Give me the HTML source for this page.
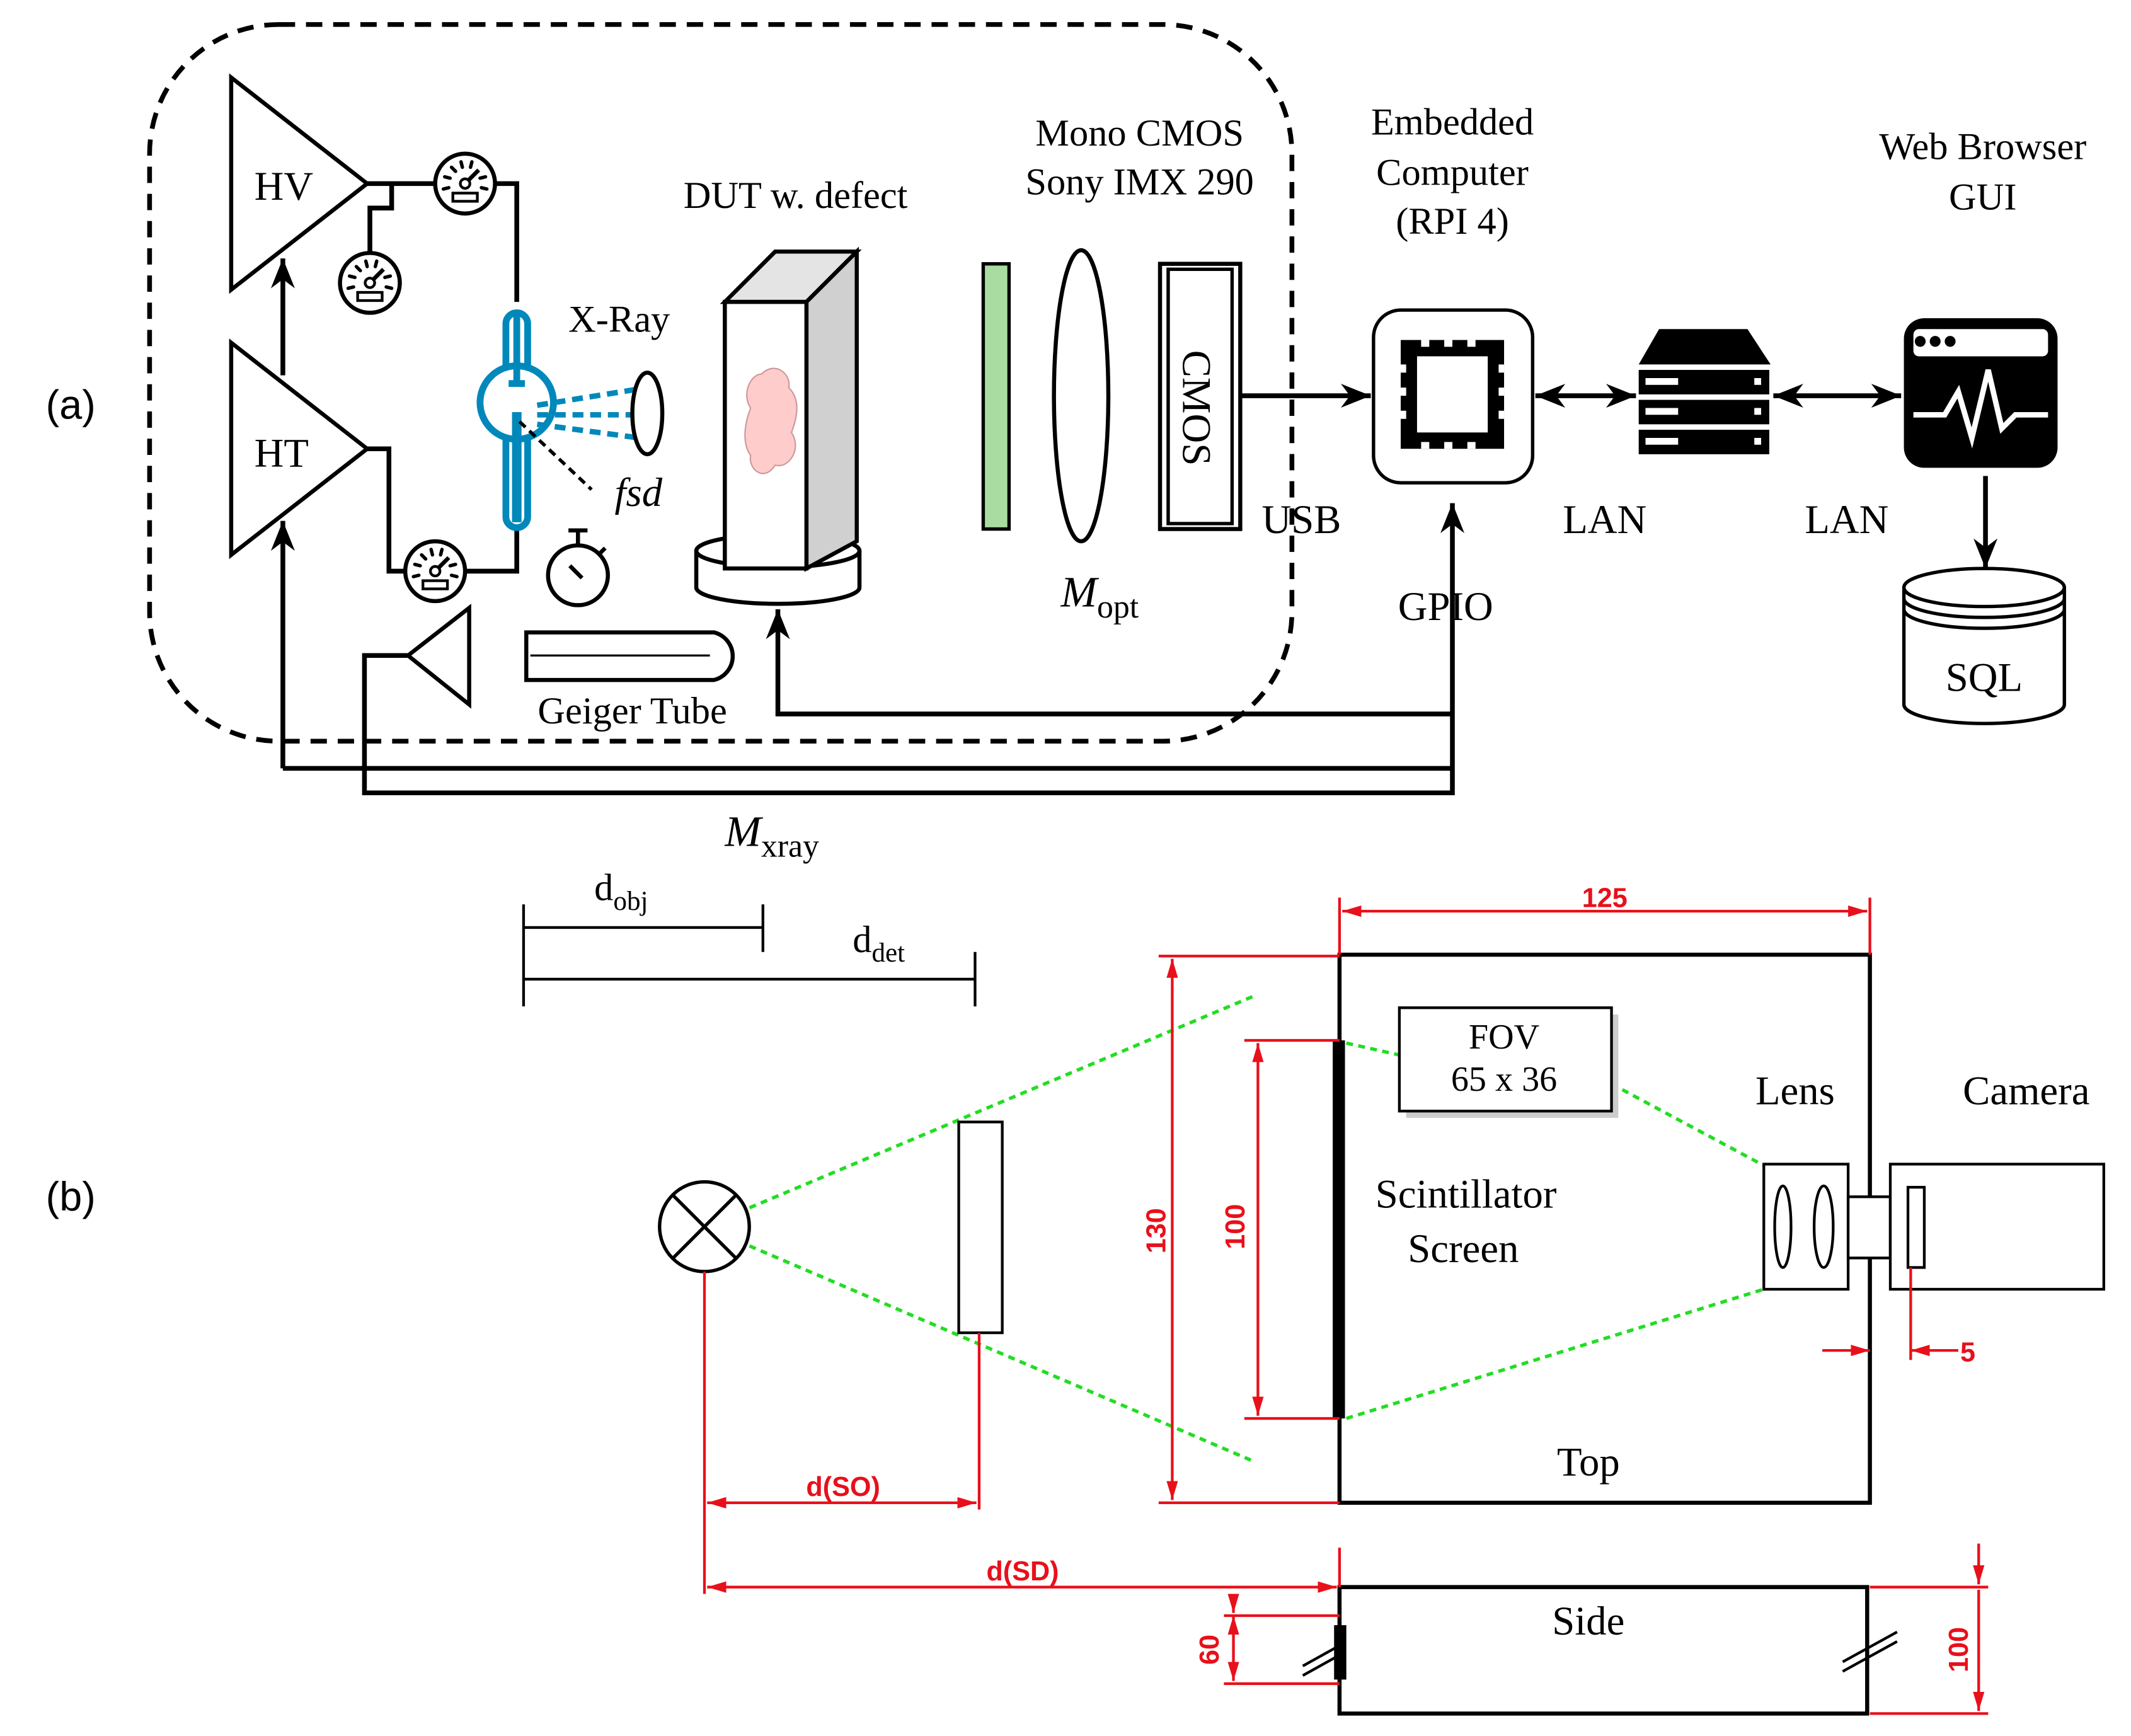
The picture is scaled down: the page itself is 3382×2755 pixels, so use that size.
<!DOCTYPE html>
<html><head><meta charset="utf-8"><style>html,body{margin:0;padding:0;background:#fff}svg{display:block}</style></head>
<body>
<svg xmlns="http://www.w3.org/2000/svg" width="3382" height="2755" viewBox="0 0 1567 1276.5" preserveAspectRatio="none">
<defs>
<marker id="ak" viewBox="0 0 10 10" refX="10" refY="5" markerWidth="22" markerHeight="22" orient="auto-start-reverse" markerUnits="userSpaceOnUse"><path d="M0,1 L10,5 L0,9 L3,5 Z" fill="#000"/></marker>
<marker id="ar" viewBox="0 0 10 10" refX="10" refY="5" markerWidth="14" markerHeight="14" orient="auto-start-reverse" markerUnits="userSpaceOnUse"><path d="M0,2 L10,5 L0,8 Z" fill="#e8101a"/></marker>
<g id="gauge"><circle r="22" fill="#fff" stroke="#000" stroke-width="3"/><g stroke="#000" stroke-width="2.5" stroke-linecap="round"><line x1="-16" y1="4" x2="-12" y2="3"/><line x1="-15" y1="-5" x2="-11" y2="-4"/><line x1="-10" y1="-12" x2="-7" y2="-9"/><line x1="-3" y1="-16" x2="-2" y2="-12"/><line x1="5" y1="-16" x2="4" y2="-12"/><line x1="15" y1="-5" x2="11" y2="-4"/><line x1="16" y1="4" x2="12" y2="3"/></g><line x1="0" y1="0" x2="10" y2="-10" stroke="#000" stroke-width="3"/><circle r="3.5" fill="#fff" stroke="#000" stroke-width="2"/><rect x="-9" y="7" width="18" height="6" fill="#fff" stroke="#000" stroke-width="2"/></g>
</defs>
<g font-family="Liberation Serif, serif" font-size="30" fill="#000">
<rect x="110" y="18" width="840" height="527" rx="95" fill="none" stroke="#000" stroke-width="3.5" stroke-dasharray="12,8"/>
<text x="52" y="308" font-family="Liberation Sans, sans-serif" text-anchor="middle">(a)</text>
<text x="52" y="890" font-family="Liberation Sans, sans-serif" text-anchor="middle">(b)</text>
<path d="M170,57 L170,213 L270,135 Z" fill="#fff" stroke="#000" stroke-width="3"/>
<path d="M170,252 L170,408 L270,330 Z" fill="#fff" stroke="#000" stroke-width="3"/>
<text x="187" y="147">HV</text><text x="187" y="343">HT</text>
<g fill="none" stroke="#000" stroke-width="3.5">
<path d="M270,135 H320 M364,135 H380 V222"/>
<path d="M288,135 V153 H272 V186"/>
<path d="M270,330 H286 V420 H298 M342,420 H380 V390"/>
<path d="M208,276 V190" marker-end="url(#ak)"/>
<path d="M300,482 H268 V583 H1068 V370" marker-end="url(#ak)"/>
<path d="M208,565 H1068"/>
<path d="M208,565 V383" marker-end="url(#ak)"/>
<path d="M1068,525 H572 V448" marker-end="url(#ak)"/>
<path d="M912,291 H1008" marker-end="url(#ak)"/>
<path d="M1129,291 H1203" marker-start="url(#ak)" marker-end="url(#ak)"/>
<path d="M1304,291 H1398" marker-start="url(#ak)" marker-end="url(#ak)"/>
<path d="M1460,350 V418" marker-end="url(#ak)"/>
</g>
<use href="#gauge" x="342" y="135"/><use href="#gauge" x="272" y="208"/><use href="#gauge" x="320" y="420"/>
<!-- xray tube -->
<g fill="none" stroke="#0088bb" stroke-width="5">
<rect x="372" y="230" width="16" height="158" rx="8" fill="#fff"/>
<circle cx="380" cy="296" r="27" fill="#fff"/>
<line x1="380" y1="232" x2="380" y2="282"/>
<line x1="374" y1="282" x2="386" y2="282"/>
<path d="M380,303 V384" stroke-width="7"/>
<g stroke-dasharray="8,5" stroke-width="4"><line x1="395" y1="298" x2="470" y2="286"/><line x1="395" y1="305" x2="470" y2="305"/><line x1="395" y1="312" x2="470" y2="322"/></g>
</g>
<line x1="382" y1="310" x2="435" y2="360" stroke="#000" stroke-width="2.5" stroke-dasharray="6,4"/>
<ellipse cx="476" cy="304" rx="11" ry="30" fill="#fff" stroke="#000" stroke-width="3"/>
<text x="418" y="244" font-size="28">X-Ray</text>
<text x="452" y="372" font-style="italic">fsd</text>
<circle cx="425" cy="423" r="22" fill="#fff" stroke="#000" stroke-width="3"/>
<path d="M425,401 V391 M418,390 H432 M441,407 L445,403" stroke="#000" stroke-width="3"/>
<line x1="419" y1="416" x2="428" y2="425" stroke="#000" stroke-width="3"/>
<path d="M300,482 L345,447 L345,518 Z" fill="#fff" stroke="#000" stroke-width="3"/>
<path d="M387,465 H525 A18,18 0 0 1 525,500 H387 Z" fill="#fff" stroke="#000" stroke-width="3"/>
<line x1="390" y1="482" x2="522" y2="482" stroke="#000" stroke-width="1.5"/>
<text x="465" y="532" text-anchor="middle" font-size="28">Geiger Tube</text>
<path d="M512,405 V432 A60,12 0 0 0 632,432 V405" fill="#fff" stroke="#000" stroke-width="3"/>
<ellipse cx="572" cy="405" rx="60" ry="12" fill="#fff" stroke="#000" stroke-width="3"/>
<path d="M533,222 L570,185 L630,185 L593,222 Z" fill="#e4e4e4" stroke="#000" stroke-width="3"/>
<path d="M593,222 L630,185 L630,398 L593,418 Z" fill="#d0d0d0" stroke="#000" stroke-width="3"/>
<rect x="533" y="222" width="60" height="196" fill="#fff" stroke="#000" stroke-width="3"/>
<path d="M560,275 C570,265 582,275 580,285 C590,295 585,310 582,318 C590,330 580,345 570,342 C562,355 550,345 552,335 C545,325 548,310 552,300 C545,290 552,275 560,275 Z" fill="#fcc" stroke="#c99" stroke-width="1"/>
<text x="585" y="153" text-anchor="middle" font-size="28">DUT w. defect</text>
<rect x="723" y="194" width="19" height="195" fill="#a8dca0" stroke="#000" stroke-width="2.5"/>
<ellipse cx="795" cy="291" rx="20" ry="107" fill="#fff" stroke="#000" stroke-width="3"/>
<rect x="853" y="194" width="59" height="195" fill="#fff" stroke="#000" stroke-width="3"/>
<rect x="859" y="198" width="47" height="187" fill="none" stroke="#000" stroke-width="2.5"/>
<text transform="translate(870,300) rotate(90)" text-anchor="middle">CMOS</text>
<text x="838" y="107" text-anchor="middle" font-size="28">Mono CMOS</text>
<text x="838" y="143" text-anchor="middle" font-size="28">Sony IMX 290</text>
<text x="780" y="446" font-style="italic" font-size="32">M<tspan font-style="normal" font-size="24" dy="8">opt</tspan></text>
<text x="533" y="622" font-style="italic" font-size="32">M<tspan font-style="normal" font-size="24" dy="8">xray</tspan></text>
<text x="957" y="392" text-anchor="middle">USB</text>
<text x="1180" y="392" text-anchor="middle">LAN</text>
<text x="1358" y="392" text-anchor="middle">LAN</text>
<text x="1063" y="456" text-anchor="middle">GPIO</text>
<text x="1068" y="99" text-anchor="middle" font-size="28">Embedded</text>
<text x="1068" y="136" text-anchor="middle" font-size="28">Computer</text>
<text x="1068" y="172" text-anchor="middle" font-size="28">(RPI 4)</text>
<text x="1458" y="117" text-anchor="middle" font-size="28">Web Browser</text>
<text x="1458" y="154" text-anchor="middle" font-size="28">GUI</text>
<rect x="1010" y="228" width="117" height="127" rx="20" fill="#fff" stroke="#000" stroke-width="2.5"/>
<rect x="1030" y="250" width="76" height="80" fill="#000"/>
<rect x="1042" y="262" width="52" height="56" fill="#fff"/>
<g fill="#fff"><rect x="1045" y="250" width="6" height="5"/><rect x="1062" y="250" width="6" height="5"/><rect x="1079" y="250" width="6" height="5"/><rect x="1045" y="325" width="6" height="5"/><rect x="1062" y="325" width="6" height="5"/><rect x="1079" y="325" width="6" height="5"/><rect x="1030" y="268" width="4" height="6"/><rect x="1030" y="285" width="4" height="6"/><rect x="1030" y="302" width="4" height="6"/><rect x="1102" y="268" width="4" height="6"/><rect x="1102" y="285" width="4" height="6"/><rect x="1102" y="302" width="4" height="6"/></g>
<path d="M1220,242 H1285 L1302,268 H1205 Z" fill="#000"/>
<g fill="#000"><rect x="1205" y="272" width="96" height="18"/><rect x="1205" y="294" width="96" height="18"/><rect x="1205" y="316" width="96" height="18"/></g>
<g fill="#fff"><rect x="1210" y="278" width="24" height="5"/><rect x="1290" y="278" width="5" height="5"/><rect x="1210" y="300" width="24" height="5"/><rect x="1290" y="300" width="5" height="5"/><rect x="1210" y="322" width="24" height="5"/><rect x="1290" y="322" width="5" height="5"/></g>
<rect x="1400" y="234" width="113" height="110" rx="15" fill="#000"/>
<rect x="1407" y="242" width="99" height="20" rx="4" fill="#fff"/>
<circle cx="1412" cy="251" r="4" fill="#000"/><circle cx="1423" cy="251" r="4" fill="#000"/><circle cx="1434" cy="251" r="4" fill="#000"/>
<path d="M1407,305 H1430 L1440,288 L1450,322 L1462,272 L1472,315 L1482,305 H1506" fill="none" stroke="#fff" stroke-width="4"/>
<path d="M1400,432 V518 A59,14 0 0 0 1518,518 V432" fill="#fff" stroke="#000" stroke-width="2.5"/>
<ellipse cx="1459" cy="432" rx="59" ry="14" fill="#fff" stroke="#000" stroke-width="2.5"/>
<path d="M1400,440 A59,14 0 0 0 1518,440 M1400,448 A59,14 0 0 0 1518,448" fill="none" stroke="#000" stroke-width="2.5"/>
<text x="1459" y="508" text-anchor="middle">SQL</text>

<g stroke="#000" stroke-width="2" fill="none">
<path d="M385,682 H561 M561,665 V700 M385,665 V740 M385,720 H717 M717,700 V740"/>
</g>
<text x="437" y="662" font-size="28">d<tspan font-size="20" dy="7">obj</tspan></text>
<text x="627" y="700" font-size="28">d<tspan font-size="20" dy="7">det</tspan></text>
<g stroke="#22dd22" stroke-width="2.5" stroke-dasharray="5,4" fill="none">
<path d="M518,902 L923,732 M518,902 L923,1075 M990,767 L1030,776 M1185,797 L1297,857 M990,1043 L1297,948"/>
</g>
<circle cx="518" cy="902" r="33" fill="#fff" stroke="#000" stroke-width="2.5"/>
<path d="M495,879 L541,925 M541,879 L495,925" stroke="#000" stroke-width="2.5"/>
<rect x="705" y="825" width="32" height="155" fill="#fff" stroke="#000" stroke-width="2"/>
<rect x="985" y="702" width="390" height="403" fill="none" stroke="#000" stroke-width="3"/>
<rect x="980" y="765" width="9" height="278" fill="#000"/>
<rect x="1034" y="746" width="156" height="76" fill="#ccc"/>
<rect x="1029" y="741" width="156" height="76" fill="#fff" stroke="#000" stroke-width="2"/>
<text x="1106" y="771" text-anchor="middle" font-size="26">FOV</text>
<text x="1106" y="802" text-anchor="middle" font-size="26">65 x 36</text>
<rect x="1297" y="856" width="62" height="92" fill="#fff" stroke="#000" stroke-width="2"/>
<ellipse cx="1311" cy="902" rx="6" ry="30" fill="none" stroke="#000" stroke-width="2"/>
<ellipse cx="1341" cy="902" rx="7" ry="30" fill="none" stroke="#000" stroke-width="2"/>
<rect x="1359" y="880" width="31" height="45" fill="#fff" stroke="#000" stroke-width="2"/>
<rect x="1390" y="856" width="157" height="92" fill="#fff" stroke="#000" stroke-width="2"/>
<rect x="1403" y="873" width="12" height="59" fill="#fff" stroke="#000" stroke-width="2"/>
<text x="1320" y="812" text-anchor="middle">Lens</text>
<text x="1490" y="812" text-anchor="middle">Camera</text>
<text x="1078" y="888" text-anchor="middle">Scintillator</text>
<text x="1076" y="928" text-anchor="middle">Screen</text>
<text x="1168" y="1085" text-anchor="middle">Top</text>
<rect x="985" y="1167" width="388" height="93" fill="none" stroke="#000" stroke-width="3"/>
<rect x="981" y="1195" width="9" height="40" fill="#000"/>
<path d="M958,1225 L985,1210 M958,1232 L985,1217 M1355,1222 L1395,1200 M1355,1229 L1395,1207" stroke="#000" stroke-width="2"/>
<text x="1168" y="1202" text-anchor="middle">Side</text>
<g stroke="#e8101a" stroke-width="2" fill="none">
<path d="M852,703 H985 M852,1105 H985 M915,765 H985 M915,1043 H985"/>
<path d="M862,705 V1103" marker-start="url(#ar)" marker-end="url(#ar)"/>
<path d="M925,767 V1041" marker-start="url(#ar)" marker-end="url(#ar)"/>
<path d="M985,660 V702 M1375,660 V702"/>
<path d="M987,670 H1373" marker-start="url(#ar)" marker-end="url(#ar)"/>
<path d="M1405,932 V1000"/>
<path d="M1340,993 H1375" marker-end="url(#ar)"/>
<path d="M1440,993 H1405" marker-end="url(#ar)"/>
<path d="M518,935 V1172 M720,980 V1110"/>
<path d="M520,1105 H718" marker-start="url(#ar)" marker-end="url(#ar)"/>
<path d="M520,1167 H983" marker-start="url(#ar)" marker-end="url(#ar)"/>
<path d="M985,1138 V1167"/>
<path d="M900,1188 H985 M900,1238 H985"/>
<path d="M907,1172 V1186" marker-end="url(#ar)"/>
<path d="M907,1188 V1236" marker-start="url(#ar)" marker-end="url(#ar)"/>
<path d="M1375,1167 H1462 M1375,1260 H1462"/>
<path d="M1455,1135 V1165" marker-end="url(#ar)"/>
<path d="M1455,1169 V1258" marker-end="url(#ar)"/>
</g>
<g fill="#e8101a" font-family="Liberation Sans, sans-serif" font-size="20" font-weight="bold" text-anchor="middle">
<text x="1180" y="667">125</text>
<text transform="translate(857,905) rotate(-90)">130</text>
<text transform="translate(915,902) rotate(-90)">100</text>
<text x="1447" y="1001">5</text>
<text x="620" y="1100">d(SO)</text>
<text x="752" y="1162">d(SD)</text>
<text transform="translate(896,1213) rotate(-90)">60</text>
<text transform="translate(1447,1213) rotate(-90)">100</text>
</g>
</g>
</svg>
</body></html>
